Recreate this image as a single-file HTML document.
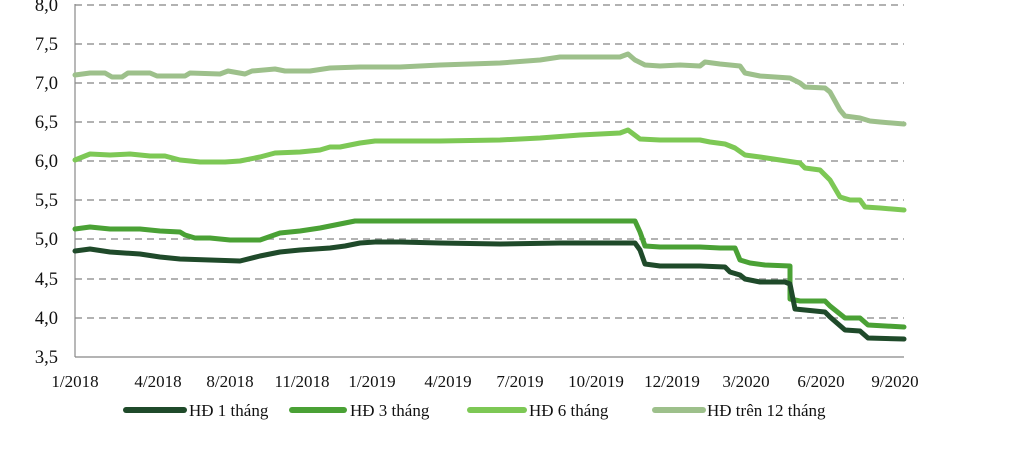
<!DOCTYPE html>
<html><head><meta charset="utf-8"><style>
body{margin:0;background:#fff}
svg text{font-family:"Liberation Serif",serif;font-size:17px;fill:#111}
svg text.y{font-size:18.5px}
</style></head><body>
<svg width="1020" height="445" xmlns="http://www.w3.org/2000/svg">
<g stroke="#999" stroke-width="1.6" stroke-dasharray="7,5">
<line x1="75" y1="5" x2="904" y2="5"/><line x1="75" y1="44" x2="904" y2="44"/><line x1="75" y1="83" x2="904" y2="83"/><line x1="75" y1="122" x2="904" y2="122"/><line x1="75" y1="161" x2="904" y2="161"/><line x1="75" y1="200" x2="904" y2="200"/><line x1="75" y1="239" x2="904" y2="239"/><line x1="75" y1="279" x2="904" y2="279"/><line x1="75" y1="318" x2="904" y2="318"/>
</g>
<line x1="75" y1="4" x2="75" y2="357" stroke="#888" stroke-width="1.2"/>
<line x1="75" y1="357" x2="904" y2="357" stroke="#888" stroke-width="1.2"/>
<g text-anchor="end">
<text class="y" x="58" y="11">8,0</text><text class="y" x="58" y="50">7,5</text><text class="y" x="58" y="89">7,0</text><text class="y" x="58" y="128">6,5</text><text class="y" x="58" y="167">6,0</text><text class="y" x="58" y="206">5,5</text><text class="y" x="58" y="245">5,0</text><text class="y" x="58" y="285">4,5</text><text class="y" x="58" y="324">4,0</text><text class="y" x="58" y="363">3,5</text>
</g>
<g text-anchor="middle">
<text x="75" y="387">1/2018</text><text x="158" y="387">4/2018</text><text x="230" y="387">8/2018</text><text x="302" y="387">11/2018</text><text x="372" y="387">1/2019</text><text x="448" y="387">4/2019</text><text x="520" y="387">7/2019</text><text x="596" y="387">10/2019</text><text x="672" y="387">12/2019</text><text x="746" y="387">3/2020</text><text x="821" y="387">6/2020</text><text x="895" y="387">9/2020</text>
</g>
<g fill="none" stroke-width="5" stroke-linejoin="round" stroke-linecap="round">
<polyline stroke="#9dc08b" points="75,75 90,73 105,73 112,77 122,77 128,73 150,73 157,76 185,76 190,73 220,74 228,71 245,74 252,71 275,69 285,71 310,71 330,68 360,67 400,67 440,65 500,63 540,60 560,57 620,57 628,54 635,60 645,65 660,66 680,65 700,66 705,62 720,64 740,66 745,73 760,76 775,77 790,78 800,83 805,87 825,88 830,92 840,110 845,116 860,118 870,121 880,122 904,124"/>
<polyline stroke="#7dc855" points="75,160 90,154 110,155 130,154 150,156 165,156 180,160 200,162 225,162 240,161 260,157 275,153 300,152 320,150 330,147 340,147 360,143 375,141 400,141 440,141 500,140 540,138 580,135 620,133 628,130 640,139 660,140 700,140 710,142 725,144 735,148 745,155 760,157 780,160 800,163 805,168 820,170 830,180 840,197 850,200 860,200 865,207 880,208 904,210"/>
<polyline stroke="#4aa135" points="75,229 90,227 110,229 140,229 160,231 180,232 185,235 195,238 210,238 230,240 260,240 280,233 300,231 320,228 340,224 355,221 400,221 500,221 560,221 635,221 640,232 645,246 660,247 700,247 720,248 735,248 740,260 750,263 765,265 790,266 790,299 800,301 825,301 830,306 845,318 860,318 868,325 904,327"/>
<polyline stroke="#1f4a2a" points="75,251 90,249 110,252 140,254 160,257 180,259 210,260 240,261 260,256 280,252 300,250 330,248 345,246 360,243 375,242 400,242 440,243 500,244 560,243 635,243 640,250 645,264 660,266 700,266 725,267 730,272 740,275 745,279 760,282 785,282 790,284 795,309 805,310 825,312 830,317 845,330 860,331 868,338 904,339"/>
</g>
<g stroke-width="6" stroke-linecap="round">
<line x1="126" y1="410" x2="184" y2="410" stroke="#1f4a2a"/>
<line x1="292" y1="410" x2="344" y2="410" stroke="#4aa135"/>
<line x1="470" y1="410" x2="524" y2="410" stroke="#7dc855"/>
<line x1="655" y1="410" x2="703" y2="410" stroke="#9dc08b"/>
</g>
<text x="189" y="416">HĐ 1 tháng</text>
<text x="350" y="416">HĐ 3 tháng</text>
<text x="529" y="416">HĐ 6 tháng</text>
<text x="707" y="416">HĐ trên 12 tháng</text>
</svg>
</body></html>
